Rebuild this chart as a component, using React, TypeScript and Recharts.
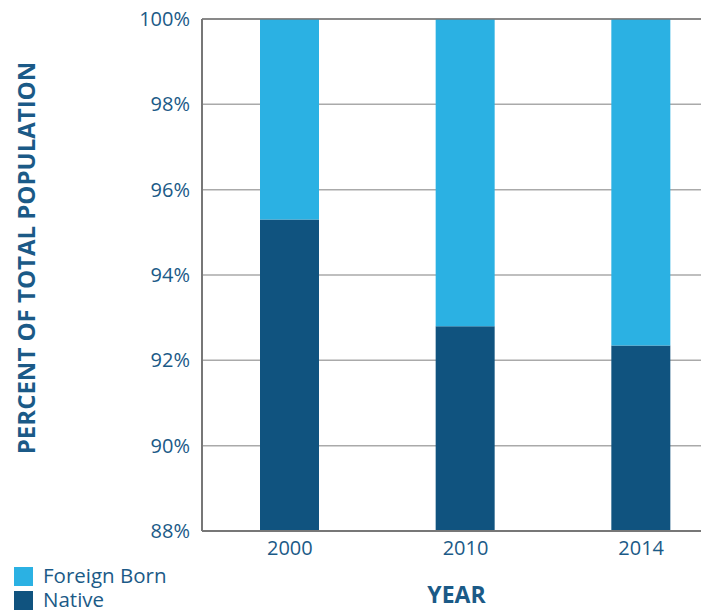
import { BarChart, Bar, XAxis, YAxis, CartesianGrid, ReferenceLine } from "recharts";

const years = ["2000", "2010", "2014"];
const nativeShare = [95.3, 92.8, 92.35];
const foreignShare = [4.7, 7.2, 7.65];
const yTicks = [88, 90, 92, 94, 96, 98, 100];

const series = [
  { key: "foreign", name: "Foreign Born", color: "#2bb1e3" },
  { key: "native", name: "Native", color: "#10537f" },
];

const data = years.map((year, i) => ({ year, native: nativeShare[i], foreign: foreignShare[i] }));

const TEXT = "#1b5a87";
const FONT = "'Open Sans', sans-serif";

const YTitle = ({ viewBox }: any) => {
  const x = 25;
  const y = viewBox.y + viewBox.height / 2 - 17;
  return (
    <text x={x} y={y} transform={`rotate(-90 ${x} ${y})`} textAnchor="middle" dominantBaseline="central"
      fill={TEXT} fontFamily={FONT} fontWeight={700} fontSize={24}>
      PERCENT OF TOTAL POPULATION
    </text>
  );
};

const XTitle = ({ viewBox }: any) => {
  const x = viewBox.x + viewBox.width / 2 + 5;
  return (
    <text x={x} y={594} textAnchor="middle" dominantBaseline="central"
      fill={TEXT} fontFamily={FONT} fontWeight={700} fontSize={23}>
      YEAR
    </text>
  );
};

const App = () => (
  <div style={{ position: "absolute", left: 0, top: 0, width: 704, height: 610, overflow: "hidden", fontFamily: FONT }}>
    <BarChart width={704} height={610} data={data} margin={{ top: 19, right: 3, bottom: 49, left: 0 }}>
      <CartesianGrid vertical={false} stroke="#aaaaaa" strokeWidth={1.5} />
      <ReferenceLine y={100} stroke="#777777" strokeWidth={1.5} />
      <XAxis dataKey="year" height={30} padding={{ left: 0, right: -28 }} tickLine={false} tickSize={0} tickMargin={10}
        axisLine={{ stroke: "#777777", strokeWidth: 2 }}
        tick={{ fill: TEXT, fontSize: 20, fontFamily: FONT }} label={{ content: XTitle }} />
      <YAxis width={202} domain={[88, 100]} ticks={yTicks} allowDataOverflow tickLine={false} tickSize={0} tickMargin={12}
        tickFormatter={(v) => `${v}%`} axisLine={{ stroke: "#777777", strokeWidth: 2 }}
        tick={{ fill: TEXT, fontSize: 20, fontFamily: FONT }} label={{ content: YTitle }} />
      <Bar dataKey="native" stackId="a" fill="#10537f" barSize={59} isAnimationActive={false} />
      <Bar dataKey="foreign" stackId="a" fill="#2bb1e3" barSize={59} isAnimationActive={false} />
    </BarChart>
    <div style={{ position: "absolute", left: 14, top: 564 }}>
      {series.map((s) => (
        <div key={s.key} style={{ display: "flex", alignItems: "center", height: 24 }}>
          <span style={{ width: 19, height: 19, background: s.color, display: "inline-block", marginRight: 10 }} />
          <span style={{ color: TEXT, fontSize: 20.5, lineHeight: "22px", marginTop: -2 }}>{s.name}</span>
        </div>
      ))}
    </div>
  </div>
);

export default App;
